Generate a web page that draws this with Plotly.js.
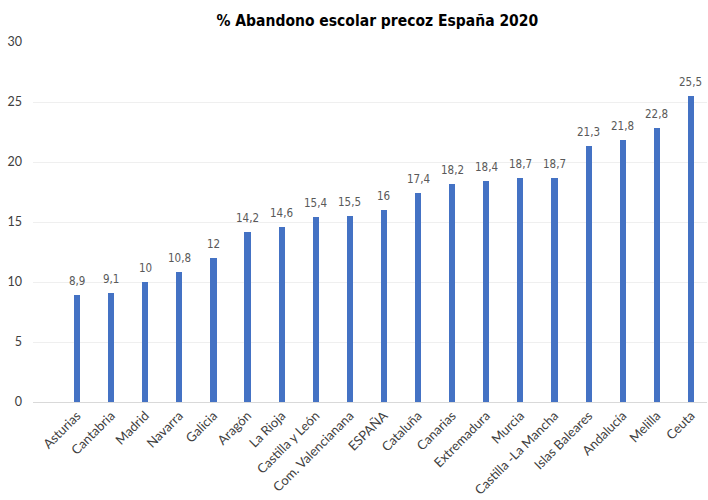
<!DOCTYPE html>
<html>
<head>
<meta charset="utf-8">
<script src="https://cdn.plot.ly/plotly-3.0.1.min.js"></script>
<style>html,body{margin:0;padding:0;background:#fff;}#chart{width:708px;height:500px;}</style>
</head>
<body>
<div id="chart"></div>
<script>
var categories = ["Asturias","Cantabria","Madrid","Navarra","Galicia","Aragón","La Rioja","Castilla y León","Com. Valencianana","ESPAÑA","Cataluña","Canarias","Extremadura","Murcia","Castilla -La Mancha","Islas Baleares","Andalucía","Melilla","Ceuta"];
var values = [8.9,9.1,10,10.8,12,14.2,14.6,15.4,15.5,16,17.4,18.2,18.4,18.7,18.7,21.3,21.8,22.8,25.5];
var yTicks = [0,5,10,15,20,25,30];

var labels = values.map(function(v){ return String(v).replace('.', ','); });
var narrow = '"DejaVu Sans Condensed", "Liberation Sans Narrow", sans-serif';
var regular = 'Lato, "Open Sans", sans-serif';
var idx = categories.map(function(c, i){ return i; });

var trace = {
  type: 'bar',
  x: idx,
  y: values,
  width: 0.18,
  marker: {color: '#4472C4'},
  hoverinfo: 'none'
};

var annotations = idx.map(function(i){
  return {x: i, y: values[i], xref: 'x', yref: 'y', text: labels[i], showarrow: false,
          xanchor: 'center', yanchor: 'bottom', yshift: 5,
          font: {family: narrow, size: 11.5, color: '#595959'}};
});

var layout = {
  width: 708, height: 500,
  margin: {l: 33, r: 1, t: 42, b: 98},
  paper_bgcolor: '#fff', plot_bgcolor: '#fff',
  showlegend: false,
  title: {text: '<b>% Abandono escolar precoz España 2020</b>', x: 0.533, xanchor: 'center', y: 0.958, yanchor: 'middle',
          font: {family: narrow, size: 15.5, color: '#000'}},
  annotations: annotations,
  xaxis: {
    range: [-1.29, 18.47],
    tickmode: 'array',
    tickvals: idx,
    ticktext: categories,
    tickangle: -45,
    showgrid: false,
    zeroline: false,
    showline: true, linecolor: '#d9d9d9', linewidth: 1,
    ticks: '',
    tickfont: {family: regular, size: 13, color: '#404040'}
  },
  yaxis: {
    range: [0, 30],
    tickmode: 'array',
    tickvals: yTicks,
    ticktext: yTicks.map(String),
    showgrid: true, gridcolor: '#efefef', gridwidth: 1,
    zeroline: false,
    showline: false,
    ticks: '',
    ticklabelstandoff: 10,
    tickfont: {family: regular, size: 12.5, color: '#404040'}
  },
  bargap: 0
};

Plotly.newPlot('chart', [trace], layout, {displayModeBar: false, staticPlot: true});
</script>
</body>
</html>
